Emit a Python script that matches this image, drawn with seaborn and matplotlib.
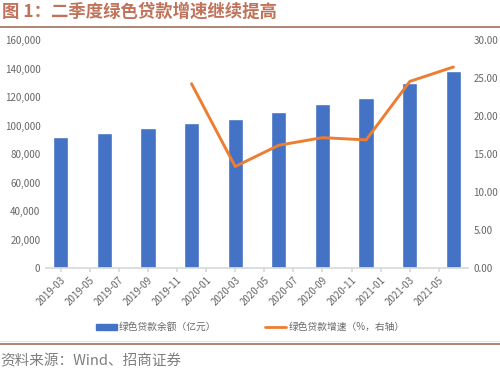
import matplotlib
matplotlib.use('Agg')
import matplotlib.pyplot as plt
import seaborn as sns
import pandas as pd
from matplotlib.lines import Line2D
from matplotlib.patches import Patch

# quarterly data points
periods = ['2019-03', '2019-06', '2019-09', '2019-12', '2020-03',
           '2020-06', '2020-09', '2020-12', '2021-03', '2021-06']
balance = [92300, 94700, 98200, 102000, 104600,
           109900, 115300, 119300, 130200, 138700]      # 亿元
growth = [None, None, None, 24.3, 13.4,
          16.2, 17.2, 16.9, 24.6, 26.5]                 # %
tick_labels = ['2019-03', '2019-05', '2019-07', '2019-09', '2019-11',
               '2020-01', '2020-03', '2020-05', '2020-07', '2020-09',
               '2020-11', '2021-01', '2021-03', '2021-05']


def month_idx(s):
    y, m = s.split('-')
    return (int(y) - 2019) * 12 + int(m) - 3


df = pd.DataFrame({'m': [month_idx(p) for p in periods],
                   'balance': balance, 'growth': growth})

sns.set_theme(style="white")
plt.rcParams['font.family'] = ['Noto Sans CJK SC', 'DejaVu Sans']

fig = plt.figure(figsize=(5, 3.74), dpi=100)
ax = fig.add_axes([0.092, 0.2826, 0.844, 0.6094])

blue = '#4472C4'
orange = '#ED7D31'
gray = '#666666'

sns.barplot(data=df, x='m', y='balance', native_scale=True, width=0.35,
            color=blue, saturation=1, ax=ax)
ax.set_xlim(-1, 28)
ax.set_ylim(0, 160000)
ax.set_yticks(range(0, 160001, 20000))
ax.set_yticklabels([f'{v:,}' for v in range(0, 160001, 20000)])
ax.set_xticks([month_idx(t) for t in tick_labels])
ax.set_xticklabels(tick_labels, rotation=45, ha='right', rotation_mode='anchor')
ax.set_xlabel('')
ax.set_ylabel('')

ax2 = ax.twinx()
sns.lineplot(data=df.dropna(), x='m', y='growth', color=orange, linewidth=2.1, ax=ax2)
ax2.set_ylim(0, 30)
ax2.set_yticks(range(0, 31, 5))
ax2.set_yticklabels([f'{v:.2f}' for v in range(0, 31, 5)])
ax2.set_ylabel('')
ax2.set_xlim(-1, 28)

for a in (ax, ax2):
    for s in a.spines.values():
        s.set_visible(False)
    a.tick_params(axis='y', length=0, labelsize=7, colors=gray, pad=4)
ax.spines['bottom'].set_visible(True)
ax.spines['bottom'].set_color('#D9D9D9')
ax.tick_params(axis='x', length=3, color='#D9D9D9', labelsize=7, colors=gray, pad=2)
ax.tick_params(axis='x', which='both', bottom=True)

handles = [Patch(color=blue), Line2D([0], [0], color=orange, lw=2)]
labels = ['绿色贷款余额（亿元）', '绿色贷款增速（%，右轴）']
fig.legend(handles, labels, loc='center', bbox_to_anchor=(0.5, 0.125), ncol=2,
           frameon=False, fontsize=7, labelcolor=gray, handlelength=2.2,
           handleheight=0.5, columnspacing=5, handletextpad=0.2)

title_c = '#C0735A'
fig.text(0.004, 0.968, '图 1：二季度绿色贷款增速继续提高', fontsize=12.5,
         fontweight='bold', color=title_c, va='center')
fig.add_artist(Line2D([0, 1], [0.928, 0.928], color='#A0705A', lw=1.2))
fig.add_artist(Line2D([0, 1], [0.087, 0.087], color='#DCE3EC', lw=0.8))
fig.add_artist(Line2D([0, 1], [0.08, 0.08], color='#A0705A', lw=1.2))
fig.text(0.0, 0.033, '资料来源：Wind、招商证券', fontsize=10.5, color='#7F7F7F', va='center')

fig.savefig('out.png', dpi=100)
